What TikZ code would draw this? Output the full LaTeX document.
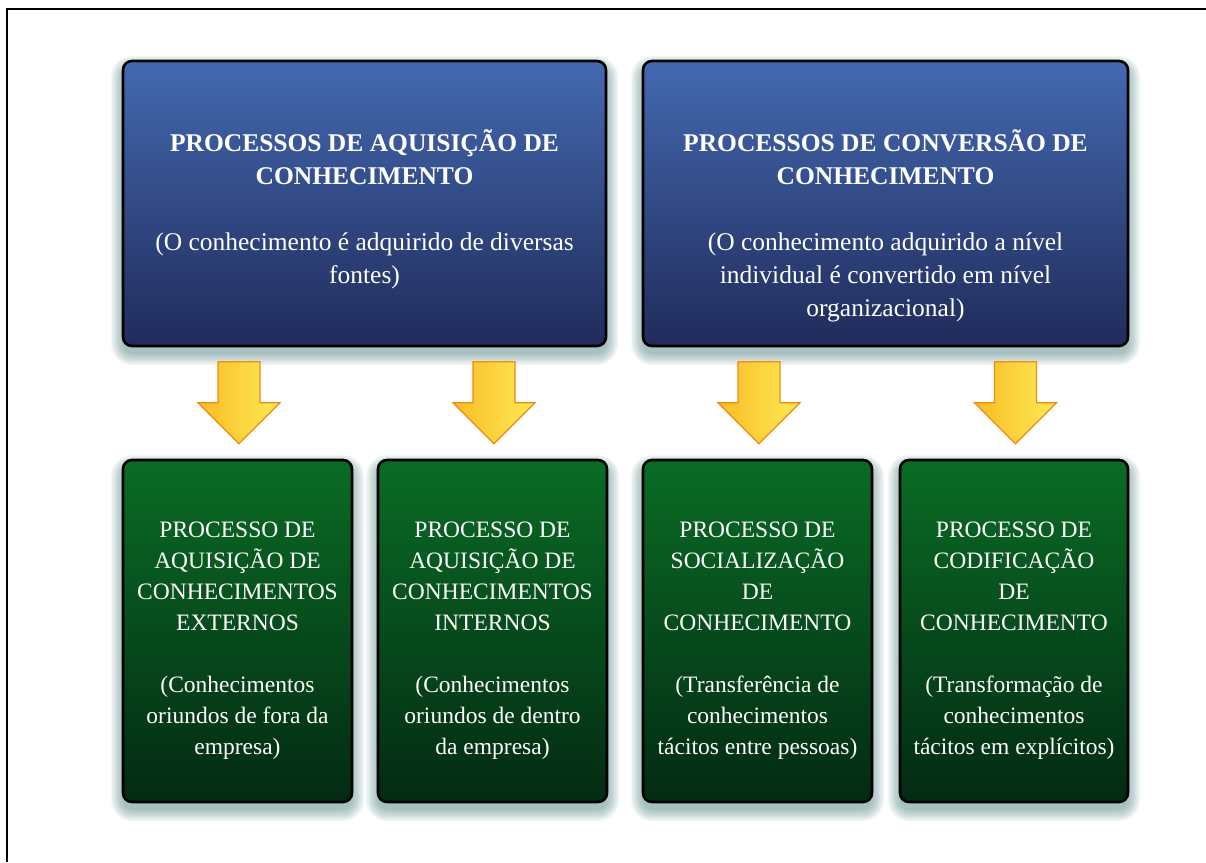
\documentclass[tikz,border=0pt]{standalone}
\usepackage{fontspec}
\setmainfont{Liberation Serif}
\usetikzlibrary{calc,backgrounds}
\definecolor{bluetop}{HTML}{4469B0}
\definecolor{bluebot}{HTML}{202B5B}
\definecolor{greentop}{HTML}{0A6C25}
\definecolor{greenbot}{HTML}{032A13}
\definecolor{arrowL}{HTML}{F8BC26}
\definecolor{arrowR}{HTML}{FFEA55}
\definecolor{arrowEdge}{HTML}{F08A10}
\definecolor{shadowc}{HTML}{3C7775}
\newcommand\bigdownarrow[2]{%
  \path[yellowarrow] ($(#1.north)+(1.5,-15)$) coordinate (#2) -- ++(41,-41) -- ++(-20,0) -- ++(0,-41) -- ++(-42,0) -- ++(0,41) -- ++(-20,0) -- cycle;}
\newcommand\softshadow[1]{%
  \foreach \i in {1,...,10}{%
    \pgfmathsetmacro\dd{1.3*\i-2}%
    \pgfmathsetmacro\rr{9+1.3*\i}%
    \fill[shadowc, opacity=0.055, rounded corners=\rr pt]
      ($(#1.south west)+(-\dd,7+\dd)$) rectangle ($(#1.north east)+(\dd,7-\dd)$);
  }}
\begin{document}
\begin{tikzpicture}[x=1pt,y=-1pt,
  box/.style={draw=black, line width=2.6pt, rounded corners=9pt, inner sep=0pt},
  bluebox/.style={box, top color=bluetop, bottom color=bluebot, minimum height=285pt},
  greenbox/.style={box, top color=greentop, bottom color=greenbot, minimum height=342pt, minimum width=229pt},
  bluetext/.style={text=white, align=center, inner sep=0pt, anchor=north,
     font=\fontsize{25.5pt}{33pt}\selectfont},
  greentext/.style={text=white, align=center, inner sep=0pt,
     font=\fontsize{23.5pt}{31pt}\selectfont},
  yellowarrow/.style={left color=arrowL, right color=arrowR, draw=arrowEdge, line width=1.3pt, line join=miter}
]
\useasboundingbox (0,0) rectangle (1206,862);
\begin{scope}[on background layer]
\fill[white] (0,0) rectangle (1206,862);
\end{scope}
\draw[line width=2pt] (7,862) -- (7,9) -- (1206,9);

\node[bluebox, minimum width=483pt] (b1) at (364.5,203.5) {};
\node[bluebox, minimum width=485pt] (b2) at (885.5,203.5) {};

\node[greenbox] (g1) at (237.5,631) {};
\node[greenbox] (g2) at (492.5,631) {};
\node[greenbox] (g3) at (757.5,631) {};
\node[greenbox, minimum width=228pt] (g4) at (1014,631) {};

\begin{scope}[on background layer]
\softshadow{b1}\softshadow{b2}\softshadow{g1}\softshadow{g2}\softshadow{g3}\softshadow{g4}
\end{scope}

\node[bluetext] (t1) at ($(b1.north)+(0,70)$) {\textbf{PROCESSOS DE AQUISIÇÃO DE}\\\textbf{CONHECIMENTO}\\[33pt](O conhecimento é adquirido de diversas\\fontes)};
\node[bluetext] (t2) at ($(b2.north)+(0,70)$) {\textbf{PROCESSOS DE CONVERSÃO DE}\\\textbf{CONHECIMENTO}\\[33pt](O conhecimento adquirido a nível\\individual é convertido em nível\\organizacional)};

\node[greentext] (s1) at ($(g1.center)+(0,10)$) {PROCESSO DE\\AQUISIÇÃO DE\\CONHECIMENTOS\\EXTERNOS\\[31pt](Conhecimentos\\oriundos de fora da\\empresa)};
\node[greentext] (s2) at ($(g2.center)+(0,10)$) {PROCESSO DE\\AQUISIÇÃO DE\\CONHECIMENTOS\\INTERNOS\\[31pt](Conhecimentos\\oriundos de dentro\\da empresa)};
\node[greentext] (s3) at ($(g3.center)+(0,10)$) {PROCESSO DE\\SOCIALIZAÇÃO\\DE\\CONHECIMENTO\\[31pt](Transferência de\\conhecimentos\\tácitos entre pessoas)};
\node[greentext] (s4) at ($(g4.center)+(0,10)$) {PROCESSO DE\\CODIFICAÇÃO\\DE\\CONHECIMENTO\\[31pt](Transformação de\\conhecimentos\\tácitos em explícitos)};

\bigdownarrow{g1}{a1}
\bigdownarrow{g2}{a2}
\bigdownarrow{g3}{a3}
\bigdownarrow{g4}{a4}
\end{tikzpicture}
\end{document}
